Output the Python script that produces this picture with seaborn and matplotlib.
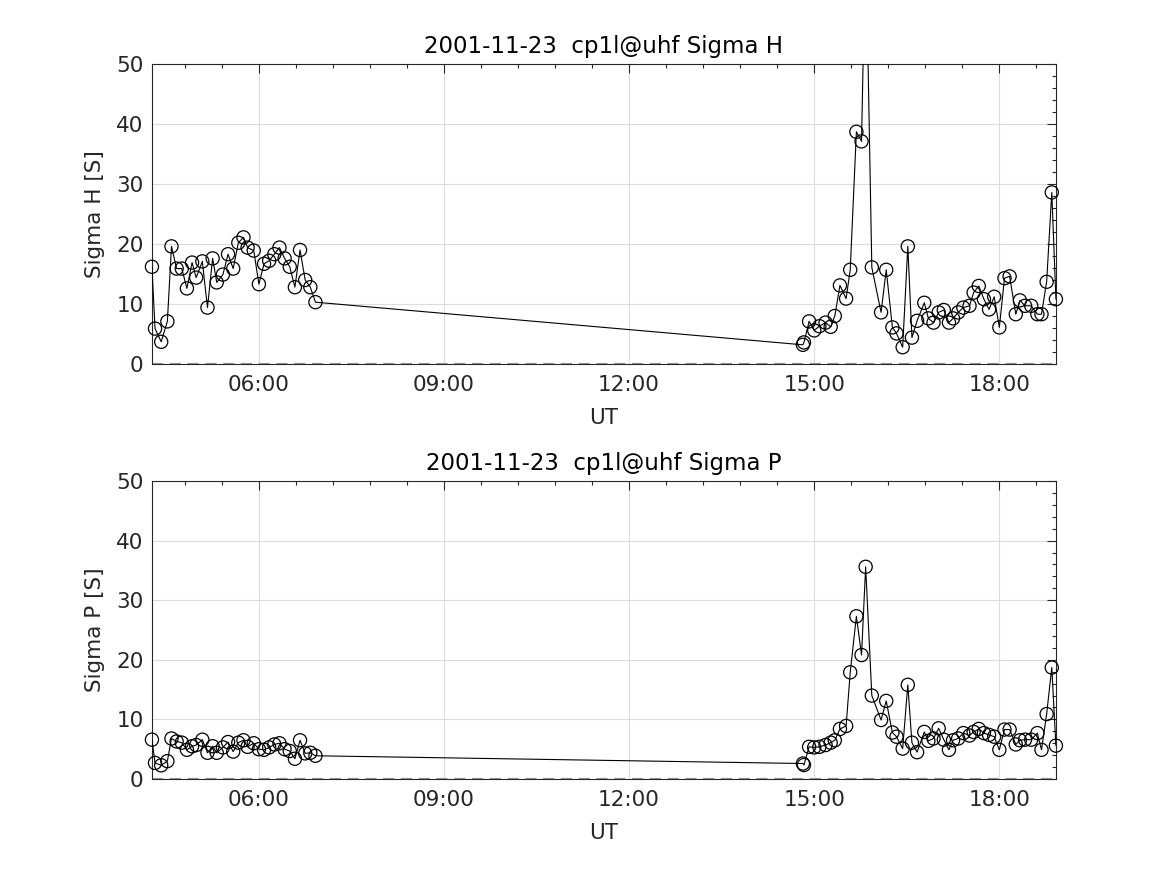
import pandas as pd
import numpy as np
import matplotlib
matplotlib.use('Agg')
import matplotlib.pyplot as plt
import matplotlib.dates as mdates
from matplotlib.ticker import MultipleLocator
import seaborn as sns

# 数据：两段观测 (上午 / 下午)，时间为 UT
day = '2001-11-23'
times_am = ["04:16", "04:19", "04:25", "04:31", "04:35", "04:40", "04:45", "04:50", "04:55", "04:59",
            "05:05", "05:10", "05:15", "05:19", "05:25", "05:30", "05:35", "05:40", "05:45", "05:49",
            "05:55", "06:00", "06:05", "06:10", "06:15", "06:20", "06:25", "06:30", "06:35", "06:40",
            "06:45", "06:50", "06:55"]
times_pm = ["14:49", "14:50", "14:55", "15:00", "15:05", "15:11", "15:16", "15:20", "15:25", "15:31",
            "15:35", "15:41", "15:46", "15:50", "15:56", "16:05", "16:10", "16:16", "16:20", "16:26",
            "16:31", "16:35", "16:40", "16:47", "16:51", "16:56", "17:01", "17:06", "17:11", "17:15",
            "17:20", "17:25", "17:31", "17:35", "17:40", "17:45", "17:50", "17:55", "18:00", "18:05",
            "18:10", "18:16", "18:20", "18:25", "18:31", "18:37", "18:41", "18:46", "18:51", "18:55"]

sigma_h_am = [16.2, 5.9, 3.7, 7.1, 19.6, 15.9, 15.9, 12.6, 16.9, 14.4,
              17.1, 9.4, 17.6, 13.6, 14.9, 18.3, 15.9, 20.2, 21.1, 19.4,
              18.9, 13.3, 16.7, 17.2, 18.3, 19.4, 17.6, 16.2, 12.8, 19.0,
              14.0, 12.8, 10.3]
sigma_h_pm = [3.2, 3.6, 7.1, 5.6, 6.3, 6.9, 6.2, 8.0, 13.1, 10.9,
              15.7, 38.7, 37.1, 72.0, 16.1, 8.6, 15.7, 6.1, 5.1, 2.8,
              19.6, 4.4, 7.2, 10.2, 7.6, 6.9, 8.6, 9.0, 6.9, 7.6,
              8.6, 9.4, 9.7, 11.9, 13.0, 10.8, 9.1, 11.2, 6.1, 14.3,
              14.6, 8.3, 10.6, 9.7, 9.7, 8.3, 8.3, 13.7, 28.6, 10.8]

sigma_p_am = [6.6, 2.7, 2.3, 3.0, 6.8, 6.3, 6.1, 4.9, 5.5, 5.7,
              6.6, 4.4, 5.5, 4.4, 5.3, 6.2, 4.6, 6.1, 6.5, 5.4,
              6.0, 5.0, 4.9, 5.3, 5.8, 6.0, 5.0, 4.7, 3.4, 6.5,
              4.3, 4.4, 3.9]
sigma_p_pm = [2.6, 2.35, 5.4, 5.3, 5.4, 5.7, 6.1, 6.5, 8.4, 8.9,
              17.9, 27.3, 20.8, 35.6, 14.0, 9.9, 13.1, 7.8, 7.1, 5.1,
              15.8, 6.1, 4.5, 7.9, 6.4, 6.8, 8.5, 6.6, 4.9, 6.5,
              6.8, 7.7, 7.3, 7.9, 8.4, 7.7, 7.4, 7.1, 4.9, 8.3,
              8.3, 5.8, 6.5, 6.6, 6.6, 7.7, 4.9, 10.9, 18.7, 5.6]

df = pd.DataFrame({
    'UT': pd.to_datetime([day + ' ' + t for t in times_am + times_pm]),
    'sigma_h': sigma_h_am + sigma_h_pm,
    'sigma_p': sigma_p_am + sigma_p_pm,
})

sns.set_style('white')
plt.rcParams['font.family'] = ['DejaVu Sans']
plt.rcParams['text.color'] = '#262626'
plt.rcParams['axes.labelcolor'] = '#262626'
plt.rcParams['xtick.color'] = '#262626'
plt.rcParams['ytick.color'] = '#262626'

fig = plt.figure(figsize=(11.67, 8.75), dpi=100)
ax1 = fig.add_axes([0.1302, 0.584, 0.7746, 0.3429])
ax2 = fig.add_axes([0.1302, 0.1097, 0.7746, 0.3406])

panels = [(ax1, 'sigma_h', 'Sigma H'), (ax2, 'sigma_p', 'Sigma P')]
ymax = 50

for ax, col, name in panels:
    ax.axhline(0, color='0.6', ls=(0, (5, 3)), lw=1.6, zorder=1)
    sns.lineplot(data=df, x='UT', y=col, ax=ax, color='k', lw=0.8,
                 estimator=None, sort=False, zorder=3)
    # 圆圈标记不裁剪（MATLAB 风格），超出范围的点不画
    vis = df[df[col] <= ymax]
    sns.scatterplot(data=vis, x='UT', y=col, ax=ax, s=90, facecolor='none',
                    edgecolor='k', linewidth=0.9, clip_on=False, zorder=4)

    ax.set_xlim(df['UT'].iloc[0], df['UT'].iloc[-1])
    ax.set_ylim(0, ymax)
    ax.xaxis.set_major_locator(MultipleLocator(0.125))
    ax.xaxis.set_minor_locator(MultipleLocator(0.025))
    ax.xaxis.set_major_formatter(mdates.DateFormatter('%H:%M'))
    ax.yaxis.set_major_locator(MultipleLocator(10))
    ax.yaxis.set_minor_locator(MultipleLocator(2))
    ax.tick_params(which='both', direction='in', top=True, right=True, labelsize=15.5, width=0.8)
    ax.tick_params(which='major', length=6.5)
    ax.tick_params(which='minor', length=3.2)
    ax.tick_params(axis='x', which='major', pad=8)
    ax.tick_params(axis='y', which='major', pad=6)
    ax.grid(True, which='major', color='#dcdcdc', lw=0.8)
    ax.set_axisbelow(True)
    for sp in ax.spines.values():
        sp.set_visible(True)
        sp.set_color('#262626')
        sp.set_linewidth(0.8)
    ax.set_title(day + '  cp1l@uhf ' + name, fontsize=16.5, color='k', pad=8)
    ax.set_xlabel('UT', fontsize=15.5, labelpad=9)
    ax.set_ylabel(name + ' [S]', fontsize=15.5, labelpad=8)

fig.savefig('out.png', dpi=100)
